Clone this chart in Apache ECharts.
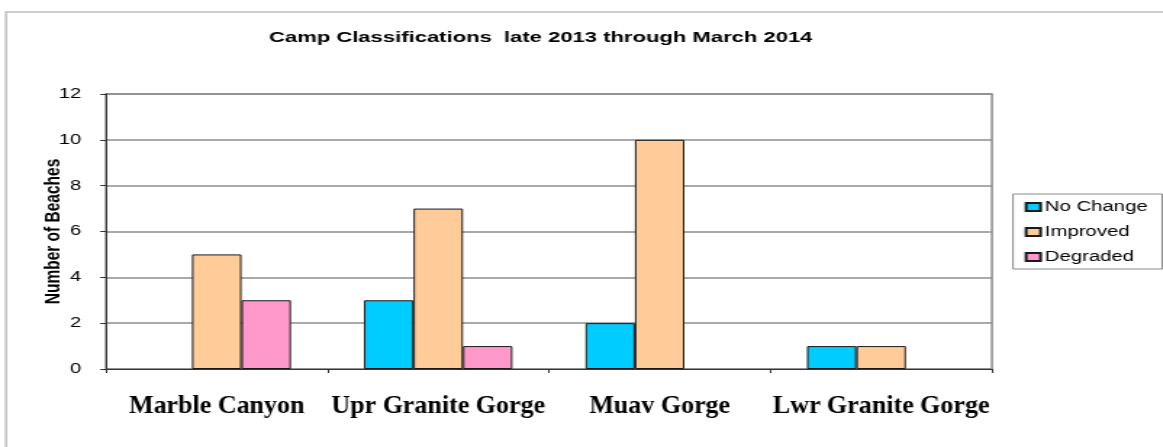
<!DOCTYPE html>
<html>
<head>
<meta charset="utf-8">
<title>Camp Classifications</title>
<script src="https://cdn.jsdelivr.net/npm/echarts@6/dist/echarts.min.js"></script>
<style>
  html, body { margin: 0; padding: 0; background: #fff; overflow: hidden; }
  #wrap { width: 1163px; height: 447px; position: relative; overflow: hidden; background: #fff; }
  #chart { position: absolute; left: 0; top: 0; height: 447px; transform-origin: 0 0; }
</style>
</head>
<body>
<div id="wrap"><div id="chart"></div></div>
<script>
// Beach counts per river reach
const regions   = ['Marble Canyon', 'Upr Granite Gorge', 'Muav Gorge', 'Lwr Granite Gorge'];
const noChange  = [0, 3, 2, 1];
const improved  = [5, 7, 10, 1];
const degraded  = [3, 1, 0, 0];
const seriesNames = ['No Change', 'Improved', 'Degraded'];
const yMin = 0, yMax = 12, yStep = 2;

// The chart is laid out at a narrower width and widened with a horizontal
// CSS scale, which gives the figure its wide, stretched lettering.
const STRETCH = 1.45;
const W = 1163 / STRETCH;
const el = document.getElementById('chart');
el.style.width = W + 'px';
el.style.transform = 'scaleX(' + STRETCH + ')';

const sans = "'Liberation Sans', Arial, sans-serif";
const serif = "'Liberation Serif', 'Times New Roman', serif";
const px = v => v / STRETCH;   // page x -> chart x

// Zero counts leave an empty slot rather than a flat outlined bar
const asBars = arr => arr.map(v => (v === 0 ? '-' : v));

const chart = echarts.init(el, null, { renderer: 'canvas' });

const barBorder = { borderColor: '#1a1a1a', borderWidth: 1 };

chart.setOption({
  backgroundColor: '#fff',
  animation: false,
  title: {
    text: 'Camp Classifications  late 2013 through March 2014',
    left: px(269),
    top: 30,
    padding: 0,
    textStyle: { fontFamily: sans, fontWeight: 'bold', fontSize: 15.2, color: '#000' }
  },
  legend: {
    data: seriesNames,
    orient: 'vertical',
    left: px(1013),
    top: 194,
    padding: [6, 10, 5, 8],
    itemGap: 11,
    itemWidth: 10,
    itemHeight: 8,
    icon: 'rect',
    backgroundColor: '#fff',
    borderColor: '#8a8a8a',
    borderWidth: 1,
    borderRadius: 0,
    textStyle: { fontFamily: sans, fontSize: 14, color: '#000', lineHeight: 14, padding: [0, 0, 0, -2] }
  },
  grid: {
    left: px(106),
    right: W - px(992),
    top: 94,
    bottom: 447 - 369,
    show: true,
    borderColor: '#8c8c8c',
    borderWidth: 1.5,
    backgroundColor: 'transparent'
  },
  xAxis: {
    type: 'category',
    data: regions,
    axisLine: { lineStyle: { color: '#333', width: 1 } },
    axisTick: { show: true, length: 4, lineStyle: { color: '#333' } },
    axisLabel: { show: false },
    splitLine: { show: false }
  },
  yAxis: {
    type: 'value',
    min: yMin,
    max: yMax,
    interval: yStep,
    name: 'Number of Beaches',
    nameLocation: 'middle',
    nameGap: 28,
    nameMoveOverlap: false,
    nameTextStyle: { fontFamily: sans, fontWeight: 'bold', fontSize: 15.5, color: '#000' },
    axisLine: { show: true, lineStyle: { color: '#333', width: 1 } },
    axisTick: { show: true, length: 4, lineStyle: { color: '#333' } },
    axisLabel: { fontFamily: sans, fontSize: 14, color: '#000', margin: 17 },
    splitLine: { show: true, lineStyle: { color: '#8c8c8c', width: 1.5 } }
  },
  series: [
    { name: seriesNames[0], type: 'bar', data: asBars(noChange), barGap: '0%', barCategoryGap: '33%',
      itemStyle: Object.assign({ color: '#00CCFF' }, barBorder) },
    { name: seriesNames[1], type: 'bar', data: asBars(improved), barGap: '0%', barCategoryGap: '33%',
      itemStyle: Object.assign({ color: '#FFCC99' }, barBorder) },
    { name: seriesNames[2], type: 'bar', data: asBars(degraded), barGap: '0%', barCategoryGap: '33%',
      itemStyle: Object.assign({ color: '#FF99CC' }, barBorder) }
  ]
});

// Reach names under the axis, in an unstretched serif face, centred on each category
const labelGraphics = regions.map(name => {
  const x = chart.convertToPixel({ xAxisIndex: 0 }, name);
  return {
    type: 'text',
    x: x,
    y: 406,
    scaleX: 1 / STRETCH,
    silent: true,
    style: {
      text: name,
      fontFamily: serif,
      fontWeight: 'bold',
      fontSize: 26,
      fill: '#000',
      align: 'center',
      verticalAlign: 'middle',
      textAlign: 'center',
      textVerticalAlign: 'middle'
    }
  };
});

// Light frame around the figure
const frame = {
  type: 'rect',
  silent: true,
  z: -1,
  shape: { x: px(6), y: 12, width: W + 20, height: 500 },
  style: { fill: 'transparent', stroke: '#bdbdbd', lineWidth: 1.5 }
};

chart.setOption({ graphic: [frame].concat(labelGraphics) });
</script>
</body>
</html>
